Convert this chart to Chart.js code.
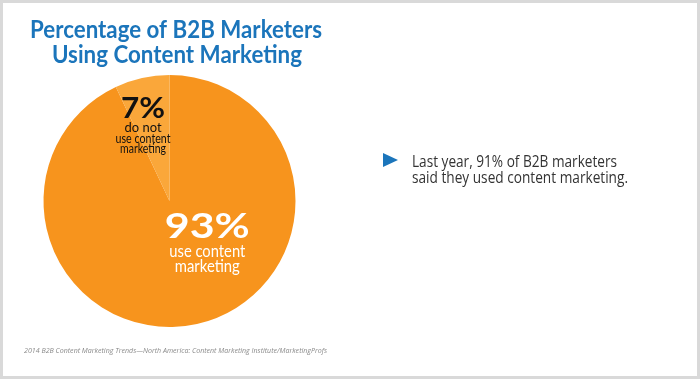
<!DOCTYPE html>
<html>
<head>
<meta charset="utf-8">
<script src="https://cdn.jsdelivr.net/npm/chart.js@4"></script>
<style>
  html, body { margin: 0; padding: 0; background: #fff; }
  #wrap { width: 700px; height: 379px; position: relative; }
</style>
</head>
<body>
<div id="wrap"><canvas id="c" width="700" height="379"></canvas></div>
<script>
// ---- data ----
const categories = ['use content marketing', 'do not use content marketing'];
const values = [93, 7];
const sliceColors = ['#F7941D', '#FAA73A'];
const titleLines = ['Percentage of B2B Marketers', 'Using Content Marketing'];
const bulletLines = ['Last year, 91% of B2B marketers', 'said they used content marketing.'];
const sourceText = '2014 B2B Content Marketing Trends\u2014North America: Content Marketing Institute/MarketingProfs';
const bigLabelSub = [['use content', 'marketing'], ['do not', 'use content', 'marketing']];

function drawFit(ctx, text, x, y, width, font, color, align) {
  ctx.save();
  ctx.font = font;
  ctx.fillStyle = color;
  ctx.textBaseline = 'alphabetic';
  const w = ctx.measureText(text).width;
  const s = width / w;
  let left = x;
  if (align === 'center') left = x - width / 2;
  ctx.translate(left, y);
  ctx.scale(s, 1);
  ctx.textAlign = 'left';
  ctx.fillText(text, 0, 0);
  ctx.restore();
}

const framePlugin = {
  id: 'frame',
  beforeDraw(chart) {
    const ctx = chart.ctx;
    ctx.save();
    ctx.fillStyle = '#d9d9d9';
    ctx.fillRect(0, 0, 700, 379);
    ctx.fillStyle = '#ffffff';
    ctx.fillRect(3, 3, 694, 373);
    ctx.restore();
  },
  afterDraw(chart) {
    const ctx = chart.ctx;
    const meta = chart.getDatasetMeta(0);
    const arc0 = meta.data[0];
    const cx = arc0.x, cy = arc0.y, r = arc0.outerRadius;
    // title
    drawFit(ctx, titleLines[0], 30, 38, 292, 'bold 24px Lato', '#1B75BB', 'left');
    drawFit(ctx, titleLines[1], 52, 63, 250, 'bold 24px Lato', '#1B75BB', 'left');
    // big slice label
    const bx = cx + r * 0.30, by = cy;
    drawFit(ctx, values[0] + '%', bx, by + 37, 85, 'bold 34px Lato', '#ffffff', 'center');
    drawFit(ctx, bigLabelSub[0][0], bx, by + 56, 76, '17px Lato', '#ffffff', 'center');
    drawFit(ctx, bigLabelSub[0][1], bx, by + 71, 65, '17px Lato', '#ffffff', 'center');
    // small slice label
    const sx = cx - r * 0.21, sy = cy;
    drawFit(ctx, values[1] + '%', sx, sy - 83, 44, 'bold 28px Lato', '#111111', 'center');
    drawFit(ctx, bigLabelSub[1][0], sx, sy - 69, 37, '13px Lato', '#111111', 'center');
    drawFit(ctx, bigLabelSub[1][1], sx, sy - 58, 55, '13px Lato', '#111111', 'center');
    drawFit(ctx, bigLabelSub[1][2], sx, sy - 48, 46, '13px Lato', '#111111', 'center');
    // bullet
    ctx.save();
    ctx.fillStyle = '#1B75BB';
    ctx.beginPath();
    ctx.moveTo(383, 153);
    ctx.lineTo(398, 160);
    ctx.lineTo(383, 167);
    ctx.closePath();
    ctx.fill();
    ctx.restore();
    drawFit(ctx, bulletLines[0], 412, 167, 205, '16px "Open Sans"', '#333333', 'left');
    drawFit(ctx, bulletLines[1], 412, 183, 216, '16px "Open Sans"', '#333333', 'left');
    // source
    drawFit(ctx, sourceText, 24, 353, 303, 'italic 8px "Open Sans"', '#8a8a8a', 'left');
  }
};

new Chart(document.getElementById('c'), {
  type: 'pie',
  data: {
    labels: categories,
    datasets: [{
      data: values,
      backgroundColor: sliceColors,
      borderWidth: 0
    }]
  },
  options: {
    responsive: false,
    animation: false,
    layout: { padding: { left: 43.5, right: 404.5, top: 75, bottom: 52 } },
    plugins: {
      legend: { display: false },
      tooltip: { enabled: false },
      title: { display: false }
    }
  },
  plugins: [framePlugin]
});
</script>
</body>
</html>
